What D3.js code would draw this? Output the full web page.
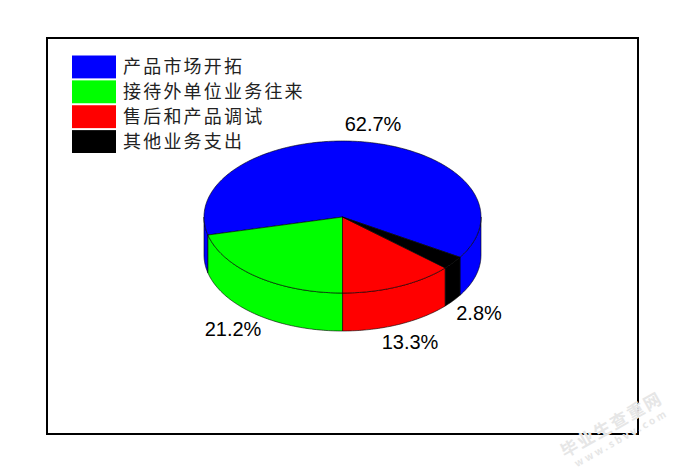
<!DOCTYPE html>
<html>
<head>
<meta charset="utf-8">
<style>
html, body { margin: 0; padding: 0; background: #fff; }
svg { display: block; }
.legend text { font-family: "Noto Sans CJK SC", sans-serif; font-size: 18px; letter-spacing: 2.2px; fill: #222; }
.pct { font-family: "Liberation Sans", Arial, sans-serif; font-size: 20px; fill: #000; }
.mark { font-family: "Noto Sans CJK SC", sans-serif; font-weight: 700; fill: #e6e6e6; stroke: #fff; stroke-width: 0.6px; paint-order: stroke; }
</style>
</head>
<body>
<svg id="chart" width="683" height="474"></svg>
<script src="https://cdn.jsdelivr.net/npm/d3@7"></script>
<script>
const categories = ['产品市场开拓', '接待外单位业务往来', '售后和产品调试', '其他业务支出'];
const values = [62.7, 21.2, 13.3, 2.8];
const colors = ['#0000ff', '#00ff00', '#ff0000', '#000000'];
const pctLabels = ['62.7%', '21.2%', '13.3%', '2.8%'];

const DEPTH = 38;
const DEG = Math.PI / 180;
const START = 122 * DEG;

const svg = d3.select('#chart');

// frame
svg.append('rect')
	.attr('x', 47).attr('y', 38)
	.attr('width', 591).attr('height', 396)
	.attr('fill', '#fff').attr('stroke', '#000').attr('stroke-width', 2);

// unit circle -> tilted pie top
const scale = {
	x: d3.scaleLinear().domain([-1, 1]).range([204, 481]),
	y: d3.scaleLinear().domain([-1, 1]).range([293, 141])
};
const px = a => scale.x(Math.sin(a));
const py = a => scale.y(Math.cos(a));

// pie runs counter-clockwise, so the angles fall from START
const pie = d3.pie().sort(null).startAngle(START).endAngle(START - 2 * Math.PI);
const slices = pie(values).map((d, i) => ({ ...d, i }));

const line = d3.line();

function sample(a0, a1) {
	const n = Math.max(2, Math.ceil(Math.abs(a1 - a0) / DEG));
	return d3.range(n + 1).map(k => a0 + (a1 - a0) * k / n);
}

// front half of the rim, in a running angle 90..270 degrees
function wallRange(d) {
	const hi = d.startAngle;
	const lo = d.endAngle;
	const out = [];
	[0, 2 * Math.PI, -2 * Math.PI].forEach(shift => {
		const a = Math.max(lo + shift, 90 * DEG);
		const b = Math.min(hi + shift, 270 * DEG);
		if (b > a) out.push([a, b]);
	});
	return out;
}

const g = svg.append('g');

slices.forEach(d => {
	wallRange(d).forEach(([a, b]) => {
		const angles = sample(a, b);
		const top = angles.map(t => [px(t), py(t)]);
		const bottom = angles.slice().reverse().map(t => [px(t), py(t) + DEPTH]);
		g.append('path')
			.attr('d', line(top.concat(bottom)) + 'Z')
			.attr('fill', colors[d.i])
			.attr('stroke', '#000')
			.attr('stroke-width', 0.6);
	});
});

slices.forEach(d => {
	const rim = sample(d.startAngle, d.endAngle).map(t => [px(t), py(t)]);
	const centre = [scale.x(0), scale.y(0)];
	g.append('path')
		.attr('d', line([centre].concat(rim)) + 'Z')
		.attr('fill', colors[d.i])
		.attr('stroke', '#000')
		.attr('stroke-width', 0.6);
});

// percent labels
const labelAt = [[373, 131], [233, 336], [410, 349], [479, 320]];
svg.selectAll('.pct')
	.data(pctLabels)
	.enter()
	.append('text')
	.attr('class', 'pct')
	.attr('text-anchor', 'middle')
	.attr('x', (d, i) => labelAt[i][0])
	.attr('y', (d, i) => labelAt[i][1])
	.text(d => d);

// legend
const rows = d3.scaleBand().domain(categories).range([55.5, 153]).paddingInner(0.08);
const legend = svg.append('g').attr('class', 'legend');
legend.selectAll('rect')
	.data(categories)
	.enter()
	.append('rect')
	.attr('x', 72)
	.attr('y', d => rows(d))
	.attr('width', 44)
	.attr('height', rows.bandwidth())
	.attr('fill', (d, i) => colors[i]);
legend.selectAll('text')
	.data(categories)
	.enter()
	.append('text')
	.attr('x', 123)
	.attr('y', d => rows(d) + rows.bandwidth() / 2 + 6)
	.text(d => d);

// watermark
const mark = svg.append('g').attr('transform', 'translate(565,458) rotate(-29.5)');
mark.append('text').attr('class', 'mark').attr('font-size', 17).attr('letter-spacing', 2).text('毕业生查重网');
mark.append('text').attr('class', 'mark').attr('font-size', 10).attr('letter-spacing', 2.6).attr('x', 6).attr('y', 14).text('www.sbvv.com');
</script>
</body>
</html>
